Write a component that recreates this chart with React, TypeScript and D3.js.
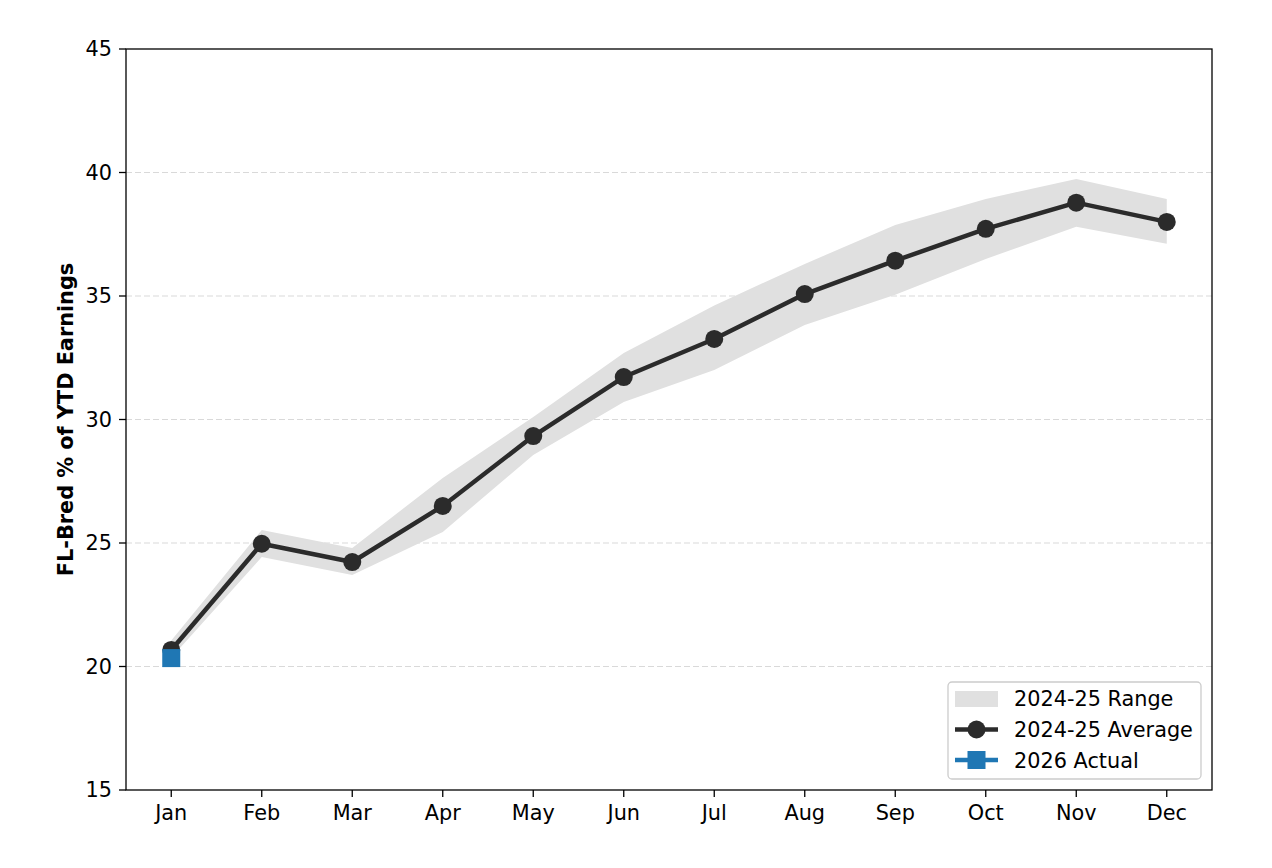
import React from "react";
import * as d3 from "d3";

const months = ["Jan", "Feb", "Mar", "Apr", "May", "Jun", "Jul", "Aug", "Sep", "Oct", "Nov", "Dec"];
const avgValues = [20.67, 24.97, 24.23, 26.5, 29.33, 31.72, 33.26, 35.08, 36.43, 37.72, 38.78, 38.0];
const rangeLow = [20.35, 24.43, 23.7, 25.45, 28.56, 30.71, 32.0, 33.83, 35.05, 36.5, 37.8, 37.12];
const rangeHigh = [21.05, 25.53, 24.8, 27.63, 30.1, 32.69, 34.62, 36.3, 37.87, 38.93, 39.74, 38.93];
const actualMonths = ["Jan"];
const actualValues = [20.34];
const yTicks = [15, 20, 25, 30, 35, 40, 45];
const legendLabels = ["2024-25 Range", "2024-25 Average", "2026 Actual"];

const W = 1272;
const H = 868;
const M = { left: 126, right: 1212, top: 49, bottom: 790 };

export default function App() {
  const x = d3.scalePoint<string>().domain(months).range([M.left, M.right]).padding(0.5);
  const y = d3.scaleLinear().domain([15, 45]).range([M.bottom, M.top]);

  const area = d3
    .area<number>()
    .x((_, i) => x(months[i])!)
    .y0((_, i) => y(rangeLow[i]))
    .y1((d) => y(d));
  const line = d3
    .line<number>()
    .x((_, i) => x(months[i])!)
    .y((d) => y(d));

  const font = "DejaVu Sans, sans-serif";
  const fs = 20.8;
  const lx = 948;
  const ly = 682;

  return (
    <svg width={W} height={H} style={{ position: "absolute", left: 0, top: 0 }} fontFamily={font}>
      <rect width={W} height={H} fill="#fff" />
      {yTicks
        .filter((t) => t > 15 && t < 45)
        .map((t) => (
          <line key={t} x1={M.left} x2={M.right} y1={y(t)} y2={y(t)} stroke="#d9d9d9" strokeWidth={1.2} strokeDasharray="6,3" />
        ))}
      <path d={area(rangeHigh) || ""} fill="#e0e0e0" />
      <path d={line(avgValues) || ""} fill="none" stroke="#2b2b2b" strokeWidth={4.5} strokeLinejoin="round" />
      {avgValues.map((v, i) => (
        <circle key={i} cx={x(months[i])} cy={y(v)} r={9} fill="#2b2b2b" />
      ))}
      {actualValues.map((v, i) => (
        <rect key={i} x={x(actualMonths[i])! - 9} y={y(v) - 9} width={18} height={18} fill="#1f77b4" />
      ))}
      <rect x={M.left} y={M.top} width={M.right - M.left} height={M.bottom - M.top} fill="none" stroke="#000" strokeWidth={1.3} />
      {yTicks.map((t) => (
        <g key={t}>
          <line x1={M.left - 7} x2={M.left} y1={y(t)} y2={y(t)} stroke="#000" strokeWidth={1.3} />
          <text x={M.left - 14} y={y(t)} dy="0.36em" textAnchor="end" fontSize={fs} fill="#000">
            {t}
          </text>
        </g>
      ))}
      {months.map((m) => (
        <g key={m}>
          <line x1={x(m)} x2={x(m)} y1={M.bottom} y2={M.bottom + 7} stroke="#000" strokeWidth={1.3} />
          <text x={x(m)} y={M.bottom + 30} textAnchor="middle" fontSize={fs} fill="#000">
            {m}
          </text>
        </g>
      ))}
      <text
        transform={`translate(73,${(M.top + M.bottom) / 2}) rotate(-90)`}
        textAnchor="middle"
        fontSize={fs}
        fontWeight="bold"
        fill="#000"
      >
        FL-Bred % of YTD Earnings
      </text>
      <g>
        <rect x={lx} y={ly} width={253} height={97} rx={4} fill="#fff" fillOpacity={0.8} stroke="#cccccc" strokeWidth={1.3} />
        <rect x={lx + 7} y={ly + 9} width={43} height={16} fill="#e0e0e0" />
        <line x1={lx + 7} x2={lx + 50} y1={ly + 47.5} y2={ly + 47.5} stroke="#2b2b2b" strokeWidth={4.5} />
        <circle cx={lx + 28.5} cy={ly + 47.5} r={9} fill="#2b2b2b" />
        <line x1={lx + 7} x2={lx + 50} y1={ly + 78} y2={ly + 78} stroke="#1f77b4" strokeWidth={4.5} />
        <rect x={lx + 19.5} y={ly + 69} width={18} height={18} fill="#1f77b4" />
        {legendLabels.map((l, i) => (
          <text key={l} x={lx + 66} y={ly + 17 + i * 31} dy="0.36em" fontSize={fs} fill="#000">
            {l}
          </text>
        ))}
      </g>
    </svg>
  );
}
